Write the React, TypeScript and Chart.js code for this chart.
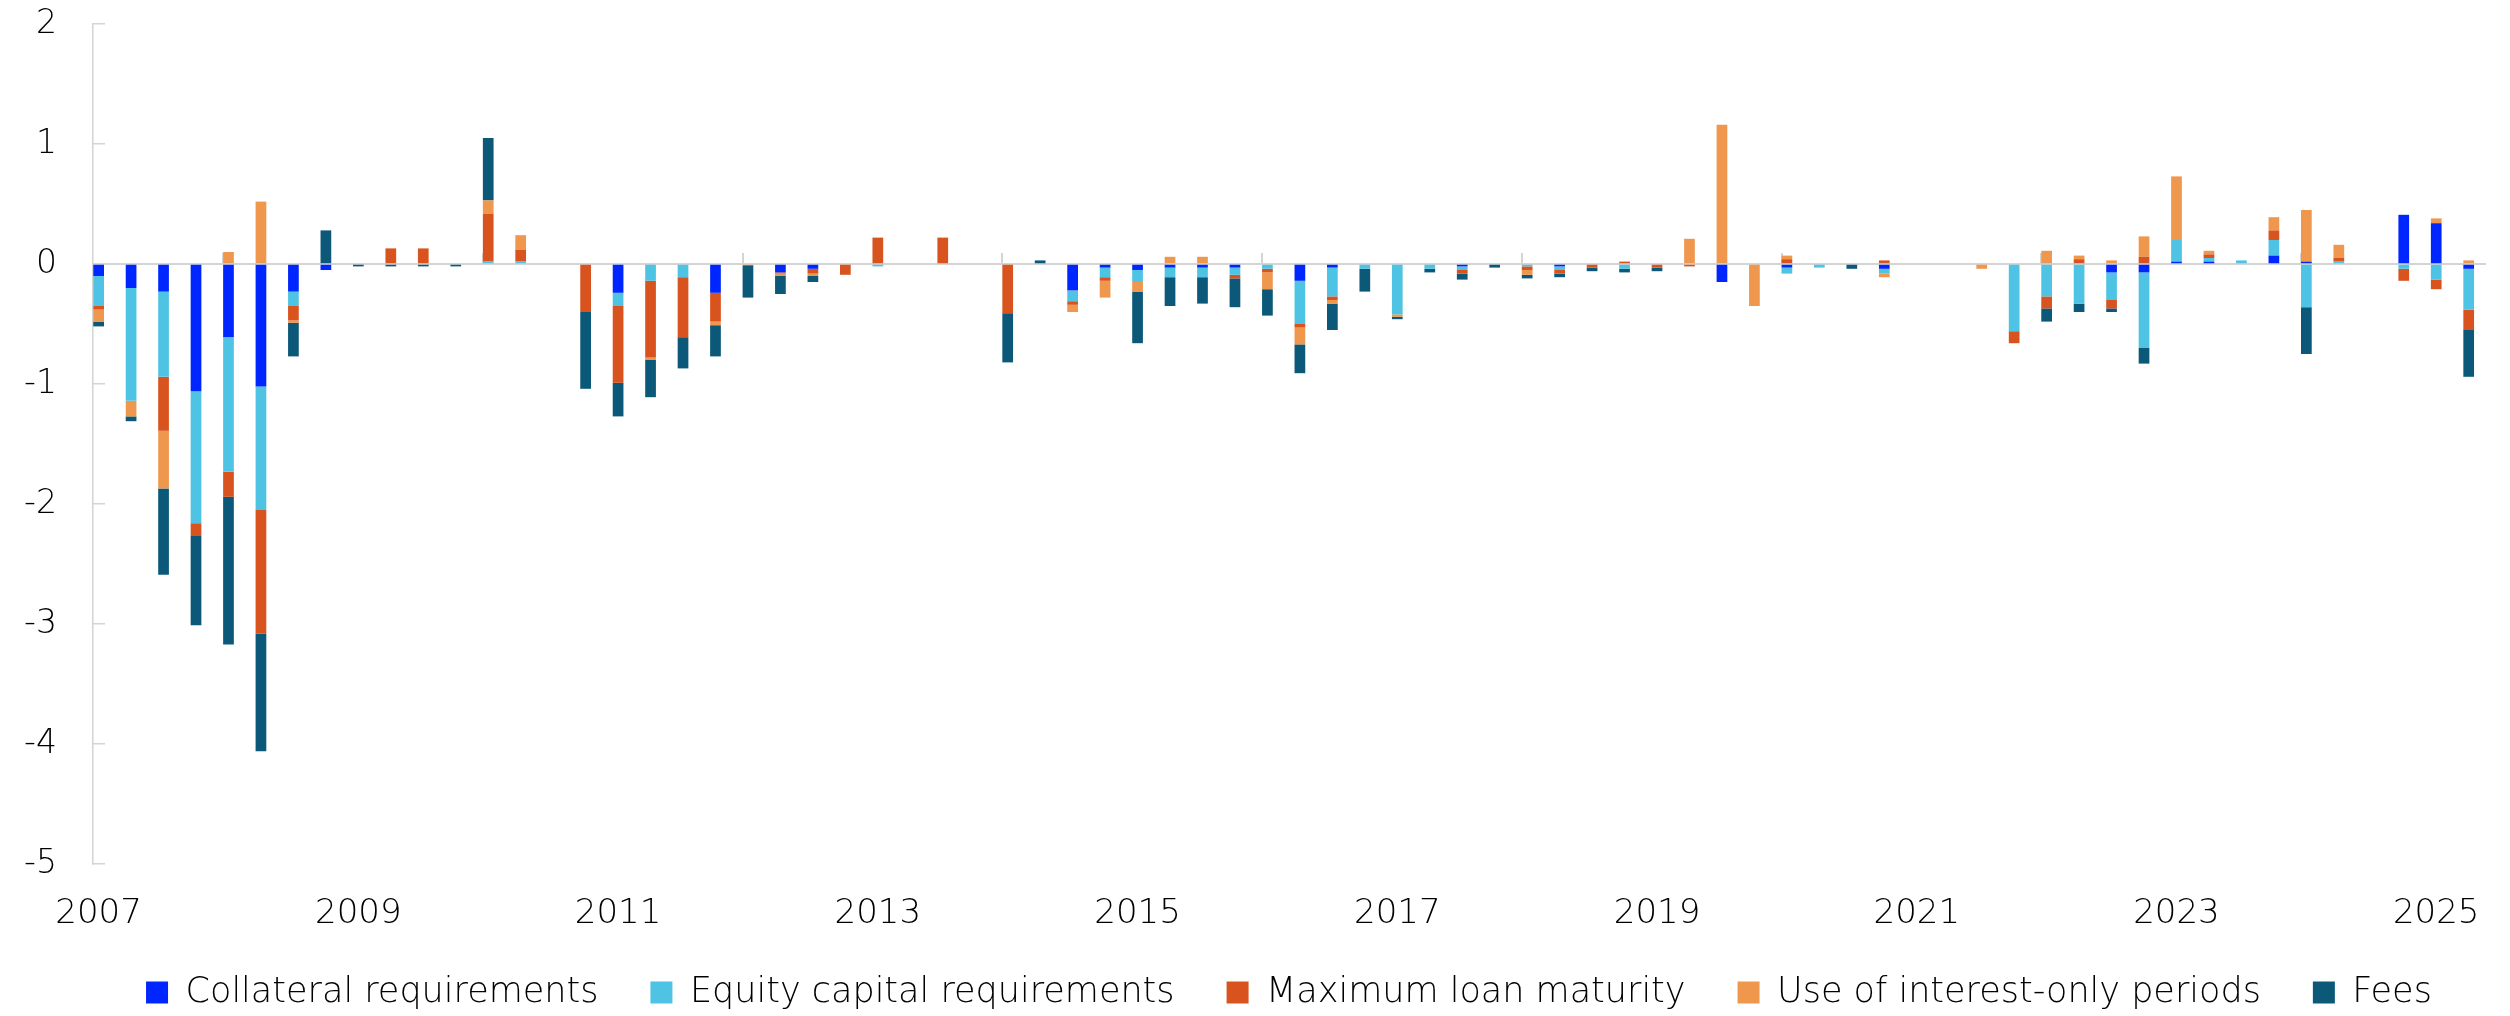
import React, { useEffect, useRef } from 'react';
import { Chart, registerables } from 'chart.js';

Chart.register(...registerables);

// Quarterly categories, 2007 Q1 – 2025 Q2
const categories: string[] = [
  '2007 Q1', '2007 Q2', '2007 Q3', '2007 Q4',
  '2008 Q1', '2008 Q2', '2008 Q3', '2008 Q4',
  '2009 Q1', '2009 Q2', '2009 Q3', '2009 Q4',
  '2010 Q1', '2010 Q2', '2010 Q3', '2010 Q4',
  '2011 Q1', '2011 Q2', '2011 Q3', '2011 Q4',
  '2012 Q1', '2012 Q2', '2012 Q3', '2012 Q4',
  '2013 Q1', '2013 Q2', '2013 Q3', '2013 Q4',
  '2014 Q1', '2014 Q2', '2014 Q3', '2014 Q4',
  '2015 Q1', '2015 Q2', '2015 Q3', '2015 Q4',
  '2016 Q1', '2016 Q2', '2016 Q3', '2016 Q4',
  '2017 Q1', '2017 Q2', '2017 Q3', '2017 Q4',
  '2018 Q1', '2018 Q2', '2018 Q3', '2018 Q4',
  '2019 Q1', '2019 Q2', '2019 Q3', '2019 Q4',
  '2020 Q1', '2020 Q2', '2020 Q3', '2020 Q4',
  '2021 Q1', '2021 Q2', '2021 Q3', '2021 Q4',
  '2022 Q1', '2022 Q2', '2022 Q3', '2022 Q4',
  '2023 Q1', '2023 Q2', '2023 Q3', '2023 Q4',
  '2024 Q1', '2024 Q2', '2024 Q3', '2024 Q4',
  '2025 Q1', '2025 Q2',
];

const tickYears: number[] = [2007, 2009, 2011, 2013, 2015, 2017, 2019, 2021, 2023, 2025];
const yTicks = { min: -5, max: 2, step: 1 };

const collateral: number[] = [
  -0.10, -0.20, -0.23, -1.06,
  -0.61, -1.02, -0.23, -0.05,
  0, 0, 0, 0,
  0, 0, 0, 0,
  -0.24, 0, 0, -0.24,
  0, -0.07, -0.04, 0,
  0, 0, 0, 0,
  0, 0, -0.22, -0.03,
  -0.05, -0.03, -0.03, -0.03,
  0, -0.14, -0.03, 0,
  0, 0, -0.02, 0,
  0, -0.02, 0, 0,
  0, 0, -0.15, 0,
  -0.03, 0, 0, -0.04,
  0, 0, 0, 0,
  0, 0, -0.07, -0.07,
  0.02, 0.02, 0, 0.07,
  0.02, 0, 0, 0.41,
  0.34, -0.04,
];

const equityCapital: number[] = [
  -0.25, -0.94, -0.71, -1.10,
  -1.12, -1.03, -0.12, 0,
  0, 0, 0, 0,
  0.02, 0.02, 0, 0,
  -0.11, -0.14, -0.11, 0,
  0, 0, 0, 0,
  -0.02, 0, 0, 0,
  0, 0, -0.09, -0.08,
  -0.10, -0.08, -0.08, -0.06,
  -0.04, -0.36, -0.24, -0.04,
  -0.42, -0.04, -0.03, 0,
  -0.02, -0.03, 0, -0.04,
  0, 0, 0, 0,
  -0.05, -0.03, 0, -0.04,
  0, 0, 0, -0.56,
  -0.27, -0.33, -0.23, -0.63,
  0.18, 0.03, 0.03, 0.13,
  -0.36, 0.02, 0, -0.04,
  -0.13, -0.34,
];

const maxMaturity: number[] = [
  -0.03, 0, -0.45, -0.10,
  -0.21, -1.03, -0.12, 0,
  0, 0.13, 0.13, 0,
  0.40, 0.10, 0, -0.40,
  -0.64, -0.64, -0.50, -0.24,
  0, -0.01, -0.04, -0.09,
  0.22, 0, 0.22, 0,
  -0.41, 0, -0.03, -0.03,
  0, 0, 0, -0.03,
  -0.03, -0.03, -0.03, 0,
  0, 0, -0.03, 0,
  -0.03, -0.03, -0.03, 0.02,
  -0.03, -0.02, 0, 0,
  0.04, 0, 0, 0.03,
  0, 0, 0, -0.10,
  -0.10, 0.04, -0.07, 0.06,
  0, 0.03, 0, 0.08,
  0, 0.03, 0, -0.10,
  -0.08, -0.17,
];

const interestOnly: number[] = [
  -0.10, -0.13, -0.48, 0,
  0.10, 0.52, -0.02, 0,
  0, 0, 0, 0,
  0.11, 0.12, 0, 0,
  0, -0.02, 0, -0.03,
  -0.01, -0.02, -0.02, 0,
  0, 0, 0, 0,
  0, 0, -0.06, -0.14,
  -0.08, 0.06, 0.06, 0,
  -0.14, -0.14, -0.03, 0,
  -0.02, 0, 0, 0,
  -0.04, 0, 0, 0,
  0, 0.21, 1.16, -0.35,
  0.03, 0, 0, -0.03,
  0, 0, -0.04, 0,
  0.11, 0.03, 0.03, 0.17,
  0.53, 0.03, 0, 0.11,
  0.43, 0.11, 0, 0,
  0.04, 0.03,
];

const fees: number[] = [
  -0.04, -0.04, -0.72, -0.75,
  -1.23, -0.98, -0.28, 0.28,
  -0.02, -0.02, -0.02, -0.02,
  0.52, 0, 0, -0.64,
  -0.28, -0.31, -0.26, -0.26,
  -0.27, -0.15, -0.05, 0,
  0, 0, 0, 0,
  -0.41, 0.03, 0, 0,
  -0.43, -0.24, -0.22, -0.24,
  -0.22, -0.24, -0.22, -0.19,
  -0.02, -0.03, -0.05, -0.03,
  -0.03, -0.03, -0.03, -0.03,
  -0.03, 0, 0, 0,
  0, 0, -0.04, 0,
  0, 0, 0, 0,
  -0.11, -0.07, -0.03, -0.13,
  0, 0, 0, 0,
  -0.39, 0, 0, 0,
  0, -0.39,
];

const seriesNames: string[] = [
  'Collateral requirements',
  'Equity capital requirements',
  'Maximum loan maturity',
  'Use of interest-only periods',
  'Fees',
];
const seriesValues: number[][] = [collateral, equityCapital, maxMaturity, interestOnly, fees];
const seriesColors: string[] = ['#0026FF', '#4FC3E3', '#D9531E', '#EF974C', '#0B5878'];

const FONT = '"DejaVu Sans", "Noto Sans", sans-serif';
const WEIGHT = '200';
const TEXT = '#000000';
const AXIS = '#d4d4d4';

// quarter label -> fractional year position on the linear axis
const toYear = (c: string) => Number(c.slice(0, 4)) + (Number(c.slice(6)) - 1) / 4;
const xPositions = categories.map(toYear);

// half a bar, in years, so that tick marks sit at the left edge of the Q1 bars
const BAR_FRACTION = 0.33;
const halfBar = (0.25 * BAR_FRACTION) / 2;
const xMin = xPositions[0] - halfBar - 0.002;
const xMax = xPositions[xPositions.length - 1] + 0.125;

export default function App() {
  const ref = useRef<HTMLCanvasElement | null>(null);

  useEffect(() => {
    const canvas = ref.current;
    if (!canvas) return;
    const chart = new Chart(canvas, {
      type: 'bar',
      data: {
        labels: xPositions as any,
        datasets: seriesNames.map((name, i) => ({
          label: name,
          data: seriesValues[i],
          backgroundColor: seriesColors[i],
          borderWidth: 0,
          xAxisID: 'x',
          yAxisID: 'y',
          categoryPercentage: 1,
          barPercentage: BAR_FRACTION,
        })),
      },
      options: {
        animation: false,
        responsive: false,
        devicePixelRatio: 1,
        layout: { padding: { top: 24, right: 21, bottom: 0, left: 0 } },
        plugins: {
          legend: {
            position: 'bottom',
            fullSize: false,
            maxHeight: 93,
            labels: {
              boxWidth: 22,
              boxHeight: 22,
              padding: 52,
              color: TEXT,
              font: { family: FONT, size: 35, weight: WEIGHT as any },
            },
          },
          tooltip: { enabled: false },
        },
        scales: {
          // data axis (no labels; reserves the gap between plot and legend)
          x: {
            type: 'linear',
            position: 'bottom',
            stacked: true,
            offset: false,
            bounds: 'data',
            min: xMin,
            max: xMax,
            grid: { display: false, drawTicks: false, offset: false },
            border: { display: false },
            ticks: { display: false },
            afterFit: (s: any) => {
              s.height = 59;
            },
          },
          // year labels, hung from the bottom of the value range
          xl: {
            type: 'linear',
            position: { y: yTicks.min } as any,
            offset: false,
            bounds: 'data',
            min: xMin,
            max: xMax,
            afterBuildTicks: (s: any) => {
              s.ticks = tickYears.map((v) => ({ value: v }));
            },
            grid: { display: false, drawTicks: false },
            border: { display: false },
            ticks: {
              autoSkip: false,
              maxRotation: 0,
              padding: 30,
              color: TEXT,
              font: { family: FONT, size: 34, weight: WEIGHT as any },
              callback: (v: any) => String(v),
            },
          },
          // zero line with small upward tick marks at the start of each labelled year
          xt: {
            type: 'linear',
            position: { y: 0 } as any,
            offset: false,
            bounds: 'data',
            min: xMin,
            max: xMax,
            afterBuildTicks: (s: any) => {
              s.ticks = tickYears.map((v) => ({ value: v - halfBar }));
            },
            ticks: { display: false },
            grid: {
              display: true,
              drawOnChartArea: false,
              drawTicks: true,
              tickLength: -12,
              color: AXIS,
              lineWidth: 2,
            },
            border: { display: true, color: AXIS, width: 2 },
          },
          y: {
            type: 'linear',
            stacked: true,
            min: yTicks.min,
            max: yTicks.max,
            afterFit: (s: any) => {
              s.width = 93;
              s.paddingTop = 18;
              s.paddingBottom = 18;
            },
            ticks: {
              stepSize: yTicks.step,
              padding: 48,
              color: TEXT,
              font: { family: FONT, size: 33, weight: WEIGHT as any },
            },
            grid: {
              display: true,
              drawOnChartArea: false,
              drawTicks: true,
              tickLength: -12,
              color: AXIS,
              lineWidth: 1.5,
            },
            border: { display: true, color: AXIS, width: 1.5 },
          },
        },
      } as any,
    });
    return () => chart.destroy();
  }, []);

  return (
    <div style={{ position: 'absolute', left: 0, top: 0, width: 2510, height: 1016, background: '#ffffff' }}>
      <canvas ref={ref} width={2510} height={1016} style={{ display: 'block' }} />
    </div>
  );
}
